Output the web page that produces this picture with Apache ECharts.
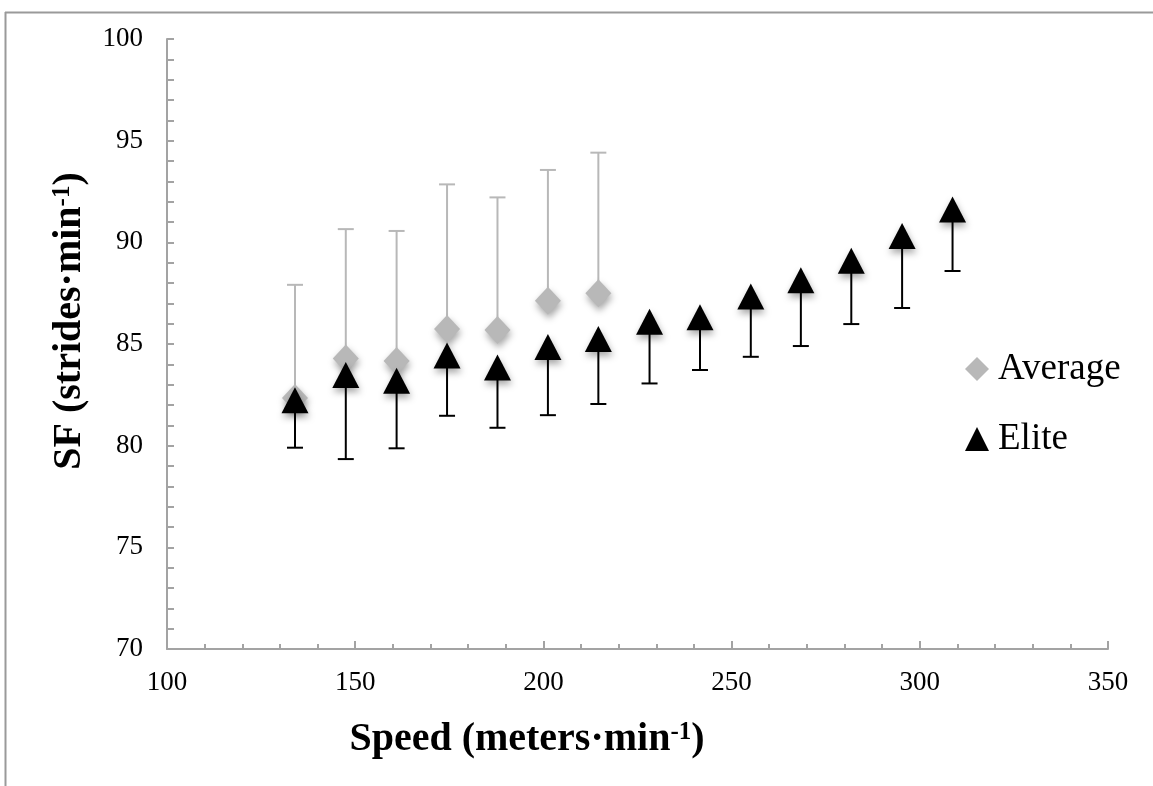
<!DOCTYPE html>
<html>
<head>
<meta charset="utf-8">
<title>SF vs Speed</title>
<script src="https://cdn.jsdelivr.net/npm/echarts@6/dist/echarts.min.js"></script>
<style>
  html, body { margin: 0; padding: 0; background: #fff; }
  #main { width: 1153px; height: 786px; }
</style>
</head>
<body>
<div id="main"></div>
<script>
  // speeds (meters/min); Average group only has the first 7
  var speeds = [134, 147.5, 161, 174.4, 187.8, 201.2, 214.6, 228.2, 241.6, 255.1, 268.4, 281.8, 295.3, 308.7];
  var avgSF = [82.34, 84.29, 84.16, 85.74, 85.69, 87.13, 87.49];
  var avgSD = [5.57, 6.36, 6.40, 7.11, 6.52, 6.43, 6.92];
  var eliteSF = [82.23, 83.47, 83.19, 84.44, 83.85, 84.85, 85.24, 86.10, 86.32, 87.33, 88.13, 89.09, 90.31, 91.61];
  var eliteSD = [2.33, 4.13, 3.32, 2.97, 2.97, 3.35, 3.19, 3.04, 2.60, 2.96, 3.23, 3.11, 3.54, 3.02];
  var xTicks = [100, 150, 200, 250, 300, 350];
  var yTicks = [70, 75, 80, 85, 90, 95, 100];

  var grey = '#b8b8b8';
  var axisGrey = '#a3a3a3';
  var serif = '"Liberation Serif", "DejaVu Serif", serif';

  var avgPts = [], avgErr = [];
  avgSF.forEach(function (v, i) {
    avgPts.push([speeds[i], v]);
    avgErr.push([speeds[i], v, v + avgSD[i]]);
  });
  var elitePts = [], eliteErr = [];
  eliteSF.forEach(function (v, i) {
    elitePts.push([speeds[i], v]);
    eliteErr.push([speeds[i], v, v - eliteSD[i]]);
  });

  // one-sided error bar: stem from the mean to the end value, with a cap
  function errorBar(color) {
    return function (params, api) {
      var p0 = api.coord([api.value(0), api.value(1)]);
      var p1 = api.coord([api.value(0), api.value(2)]);
      var half = 8;
      return {
        type: 'group',
        children: [
          { type: 'line', shape: { x1: p0[0], y1: p0[1], x2: p1[0], y2: p1[1] },
            style: { stroke: color, lineWidth: 2 } },
          { type: 'line', shape: { x1: p1[0] - half, y1: p1[1], x2: p1[0] + half, y2: p1[1] },
            style: { stroke: color, lineWidth: 2 } }
        ]
      };
    };
  }

  var shadow = {
    opacity: 1,
    shadowBlur: 7,
    shadowOffsetX: 1,
    shadowOffsetY: 4,
    shadowColor: 'rgba(0,0,0,0.35)'
  };

  var titleRich = {
    b: { fontFamily: serif, fontWeight: 'bold', fontSize: 40, fill: '#000' },
    s: { fontFamily: serif, fontWeight: 'bold', fontSize: 25, fill: '#000', verticalAlign: 'top', padding: [0, 0, 14, 0] }
  };

  var myChart = echarts.init(document.getElementById('main'));
  var option = {
    backgroundColor: '#fff',
    animation: false,
    grid: { left: 167, right: 45, top: 39, bottom: 137 },
    xAxis: {
      type: 'value',
      min: xTicks[0],
      max: xTicks[xTicks.length - 1],
      interval: 50,
      axisLine: { lineStyle: { color: axisGrey, width: 2 } },
      axisTick: { inside: true, length: 8, lineStyle: { color: axisGrey, width: 2 } },
      minorTick: { show: true, splitNumber: 5, length: 5, lineStyle: { color: axisGrey, width: 2 } },
      splitLine: { show: false },
      axisLabel: { margin: 20, fontFamily: serif, fontSize: 27, color: '#000' }
    },
    yAxis: {
      type: 'value',
      min: yTicks[0],
      max: yTicks[yTicks.length - 1],
      interval: 5,
      axisLine: { show: true, lineStyle: { color: axisGrey, width: 2 } },
      axisTick: { show: true, inside: true, length: 7, lineStyle: { color: axisGrey, width: 2 } },
      minorTick: { show: true, splitNumber: 5, length: 7, lineStyle: { color: axisGrey, width: 2 } },
      splitLine: { show: false },
      axisLabel: { margin: 24, fontFamily: serif, fontSize: 27, color: '#000' }
    },
    legend: {
      data: ['Average', 'Elite'],
      orient: 'vertical',
      left: 960,
      top: 344,
      itemGap: 30,
      itemWidth: 24,
      itemHeight: 24,
      itemStyle: { opacity: 1, shadowBlur: 0, shadowOffsetX: 0, shadowOffsetY: 0, shadowColor: 'transparent' },
      textStyle: { fontFamily: serif, fontSize: 37, color: '#000', lineHeight: 40, padding: [0, 0, 0, 4] }
    },
    graphic: [
      // chart-area border, as cropped in the document
      { type: 'line', shape: { x1: 5, y1: 12.5, x2: 1153, y2: 12.5 }, style: { stroke: '#9a9a9a', lineWidth: 2 } },
      { type: 'line', shape: { x1: 5.5, y1: 12, x2: 5.5, y2: 786 }, style: { stroke: '#9a9a9a', lineWidth: 2 } },
      {
        type: 'text', x: 527, y: 740,
        style: {
          text: '{b|Speed (meters·min}{s|-1}{b|)}',
          align: 'center', verticalAlign: 'middle',
          rich: titleRich
        }
      },
      {
        type: 'text', x: 70, y: 321, rotation: Math.PI / 2,
        style: {
          text: '{b|SF (strides·min}{s|-1}{b|)}',
          align: 'center', verticalAlign: 'middle',
          rich: titleRich
        }
      }
    ],
    series: [
      {
        type: 'custom',
        renderItem: errorBar(grey),
        data: avgErr,
        encode: { x: 0, y: [1, 2] },
        silent: true
      },
      {
        name: 'Average',
        type: 'scatter',
        symbol: 'diamond',
        symbolSize: [26, 28],
        itemStyle: Object.assign({ color: grey }, shadow),
        data: avgPts
      },
      {
        type: 'custom',
        renderItem: errorBar('#000'),
        data: eliteErr,
        encode: { x: 0, y: [1, 2] },
        silent: true
      },
      {
        name: 'Elite',
        type: 'scatter',
        symbol: 'triangle',
        symbolSize: [27, 26],
        itemStyle: Object.assign({ color: '#000' }, shadow),
        data: elitePts
      }
    ]
  };
  myChart.setOption(option);
</script>
</body>
</html>
